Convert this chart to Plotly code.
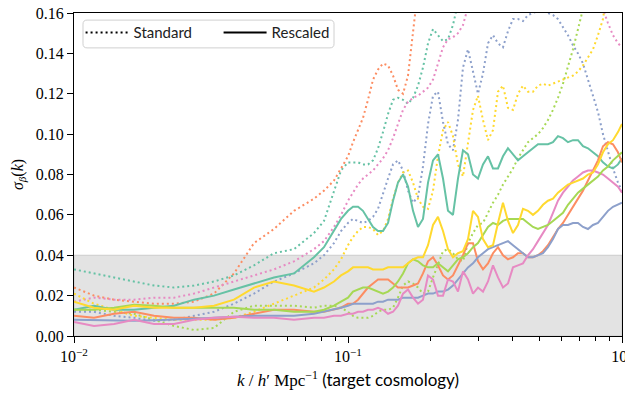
import plotly.graph_objects as go

# wavenumber grid k [h'/Mpc]
K = [0.0100, 0.01183, 0.01400, 0.01656, 0.01959, 0.02317, 0.02741, 0.03243, 0.03836, 0.04538,
     0.05368, 0.06351, 0.07513, 0.08172, 0.08888, 0.09430,
     0.1000, 0.1043, 0.1088, 0.1134, 0.1183, 0.1234, 0.1287, 0.1342, 0.1400, 0.1460,
     0.1522, 0.1588, 0.1656, 0.1727, 0.1801, 0.1878, 0.1959, 0.2043, 0.2130, 0.2222,
     0.2317, 0.2416, 0.2520, 0.2628, 0.2741, 0.2859, 0.2981, 0.3109, 0.3243, 0.3382,
     0.3527, 0.3678, 0.3836, 0.4001, 0.4172, 0.4351, 0.4538, 0.4733, 0.4936, 0.5148,
     0.5368, 0.5599, 0.5839, 0.6090, 0.6351, 0.6623, 0.6908, 0.7204, 0.7513, 0.7835,
     0.8172, 0.8522, 0.8888, 0.9269, 0.9667, 1.0000]

COLORS = ["#66c2a5", "#fc8d62", "#8da0cb", "#e78ac3", "#a6d854", "#ffd92f"]

# ---- Standard (dotted) ----
std_teal = [0.033, 0.031, 0.029, 0.027, 0.025, 0.024, 0.025, 0.027, 0.030, 0.035, 0.041, 0.043, 0.051, 0.057, 0.072, 0.082,
            0.086, 0.086, 0.086, 0.085, 0.085, 0.087, 0.093, 0.101, 0.110, 0.117,
            0.118, 0.117, 0.115, 0.118, 0.124, 0.133, 0.145, 0.152, 0.149, 0.146,
            0.147, 0.154, 0.165, 0.18]
std_orange = [0.024, 0.020, 0.018, 0.017, 0.016, 0.016, 0.017, 0.021, 0.031, 0.046, 0.053, 0.062, 0.068, 0.072, 0.077, 0.083,
              0.089, 0.096, 0.102, 0.108, 0.117, 0.127, 0.132, 0.135, 0.134, 0.129,
              0.122, 0.120, 0.129, 0.150, 0.172]
std_blue = [0.012, 0.012, 0.010, 0.009, 0.0075, 0.008, 0.010, 0.012, 0.016, 0.021, 0.027, 0.031, 0.036, 0.040, 0.046, 0.052,
            0.056, 0.058, 0.057, 0.056, 0.057, 0.059, 0.063, 0.071, 0.078, 0.085,
            0.087, 0.082, 0.072, 0.066, 0.069, 0.084, 0.105, 0.119, 0.121, 0.106,
            0.095, 0.092, 0.107, 0.133, 0.142, 0.131, 0.120, 0.130, 0.145, 0.149,
            0.145, 0.143, 0.151, 0.157, 0.157, 0.156, 0.159, 0.160, 0.161, 0.161,
            0.160, 0.159, 0.157, 0.153, 0.149, 0.144, 0.140, 0.135, 0.127, 0.119,
            0.111, 0.100, 0.091, 0.083, 0.076, 0.072]
std_pink = [0.017, 0.019, 0.018, 0.018, 0.019, 0.019, 0.021, 0.024, 0.027, 0.030, 0.033, 0.037, 0.043, 0.047, 0.054, 0.060,
            0.067, 0.071, 0.075, 0.078, 0.080, 0.082, 0.085, 0.088, 0.092, 0.098,
            0.105, 0.112, 0.116, 0.118, 0.119, 0.121, 0.123, 0.127, 0.135, 0.143,
            0.147, 0.148, 0.150, 0.154, 0.163, 0.18] + [None] * 24 + \
           [0.175, 0.162, 0.155, 0.149, 0.145, 0.143]
std_green = [0.013, 0.013, 0.012, 0.011, 0.008, 0.005, 0.003, 0.004, 0.012, 0.015, 0.015, 0.015, 0.014, 0.015, 0.015, 0.014,
             0.012, 0.010, 0.009, 0.009, 0.009, 0.010, 0.012, 0.013, 0.013, 0.014,
             0.019, 0.025, 0.027, 0.026, 0.024, 0.021, 0.022, 0.029, 0.036, 0.042,
             0.043, 0.041, 0.038, 0.037, 0.046, 0.051, 0.055, 0.056, 0.061, 0.066,
             0.070, 0.075, 0.079, 0.083, 0.088, 0.092, 0.096, 0.098, 0.100, 0.103,
             0.107, 0.112, 0.118, 0.125, 0.133, 0.142, 0.152, 0.162, 0.18]
std_yellow = [0.021, 0.016, 0.013, 0.010, 0.009, 0.008, 0.008, 0.008, 0.009, 0.012, 0.016, 0.020, 0.024, 0.028, 0.033, 0.038,
              0.045, 0.049, 0.052, 0.054, 0.054, 0.053, 0.050, 0.052, 0.058, 0.068,
              0.076, 0.081, 0.082, 0.076, 0.068, 0.064, 0.063, 0.072, 0.089, 0.102,
              0.106, 0.099, 0.085, 0.079, 0.096, 0.112, 0.119, 0.107, 0.097, 0.102,
              0.121, 0.124, 0.113, 0.112, 0.120, 0.124, 0.121, 0.121, 0.124, 0.125,
              0.124, 0.125, 0.126, 0.127, 0.128, 0.129, 0.131, 0.134, 0.138, 0.142,
              0.149, 0.157, 0.175]

# ---- Rescaled (solid) ----
res_teal = [0.013, 0.015, 0.013, 0.013, 0.014, 0.015, 0.018, 0.020, 0.023, 0.026, 0.029, 0.031, 0.039, 0.044, 0.052, 0.058,
            0.062, 0.064, 0.064, 0.062, 0.058, 0.054, 0.052, 0.052, 0.056, 0.067,
            0.076, 0.080, 0.074, 0.062, 0.054, 0.058, 0.076, 0.087, 0.090, 0.078,
            0.062, 0.060, 0.078, 0.092, 0.090, 0.080, 0.078, 0.085, 0.089, 0.083,
            0.083, 0.089, 0.093, 0.090, 0.087, 0.089, 0.091, 0.093, 0.095, 0.095,
            0.095, 0.096, 0.099, 0.098, 0.096, 0.097, 0.097, 0.094, 0.093, 0.091,
            0.089, 0.086, 0.084, 0.083, 0.085, 0.088]
res_orange = [0.010, 0.009, 0.011, 0.012, 0.010, 0.009, 0.009, 0.008, 0.009, 0.011, 0.013, 0.013, 0.012, 0.012, 0.013, 0.014,
              0.016, 0.016, 0.018, 0.021, 0.024, 0.026, 0.028, 0.028, 0.028, 0.026,
              0.024, 0.024, 0.024, 0.025, 0.026, 0.031, 0.037, 0.039, 0.035, 0.030,
              0.028, 0.030, 0.035, 0.040, 0.046, 0.046, 0.037, 0.033, 0.036, 0.041,
              0.044, 0.040, 0.038, 0.039, 0.041, 0.041, 0.039, 0.039, 0.040, 0.042,
              0.045, 0.049, 0.053, 0.056, 0.060, 0.064, 0.068, 0.072, 0.077, 0.082,
              0.087, 0.094, 0.096, 0.095, 0.091, 0.086]
res_blue = [0.008, 0.0078, 0.0075, 0.0075, 0.0078, 0.008, 0.0085, 0.009, 0.0095, 0.010, 0.010, 0.010, 0.011, 0.012, 0.013, 0.014,
            0.015, 0.016, 0.016, 0.016, 0.016, 0.016, 0.017, 0.017, 0.018, 0.018,
            0.018, 0.019, 0.019, 0.019, 0.019, 0.020, 0.021, 0.021, 0.022, 0.022,
            0.023, 0.025, 0.028, 0.031, 0.034, 0.036, 0.039, 0.041, 0.043, 0.044,
            0.045, 0.046, 0.047, 0.045, 0.043, 0.041, 0.039, 0.039, 0.040, 0.041,
            0.044, 0.048, 0.053, 0.055, 0.055, 0.056, 0.056, 0.054, 0.053, 0.055,
            0.056, 0.059, 0.062, 0.064, 0.065, 0.066]
res_pink = [0.007, 0.005, 0.006, 0.008, 0.006, 0.006, 0.008, 0.009, 0.0095, 0.009, 0.009, 0.008, 0.009, 0.009, 0.010, 0.010,
            0.011, 0.011, 0.012, 0.012, 0.013, 0.013, 0.014, 0.013, 0.011, 0.012,
            0.015, 0.021, 0.023, 0.019, 0.016, 0.018, 0.030, 0.028, 0.020, 0.020,
            0.028, 0.027, 0.022, 0.032, 0.028, 0.021, 0.024, 0.022, 0.027, 0.035,
            0.029, 0.024, 0.026, 0.034, 0.035, 0.036, 0.040, 0.043, 0.047, 0.051,
            0.055, 0.061, 0.067, 0.071, 0.074, 0.077, 0.079, 0.081, 0.082, 0.082,
            0.081, 0.080, 0.078, 0.076, 0.074, 0.071]
res_green = [0.013, 0.013, 0.014, 0.0155, 0.015, 0.014, 0.014, 0.014, 0.014, 0.013, 0.013, 0.012, 0.012, 0.013, 0.015, 0.017,
             0.019, 0.022, 0.023, 0.024, 0.024, 0.023, 0.022, 0.021, 0.022, 0.024,
             0.027, 0.031, 0.036, 0.038, 0.037, 0.035, 0.034, 0.034, 0.036, 0.034,
             0.032, 0.035, 0.038, 0.039, 0.041, 0.044, 0.046, 0.050, 0.054, 0.056,
             0.055, 0.057, 0.058, 0.058, 0.058, 0.058, 0.056, 0.054, 0.053, 0.054,
             0.055, 0.057, 0.059, 0.061, 0.065, 0.068, 0.071, 0.073, 0.075, 0.077,
             0.079, 0.082, 0.084, 0.087, 0.089, 0.091]
res_yellow = [0.017, 0.014, 0.013, 0.015, 0.014, 0.014, 0.014, 0.015, 0.018, 0.024, 0.027, 0.025, 0.022, 0.024, 0.027, 0.030,
              0.032, 0.034, 0.034, 0.034, 0.034, 0.033, 0.033, 0.033, 0.034, 0.034,
              0.034, 0.034, 0.036, 0.038, 0.039, 0.039, 0.045, 0.055, 0.059, 0.052,
              0.043, 0.039, 0.041, 0.042, 0.048, 0.062, 0.059, 0.048, 0.044, 0.045,
              0.056, 0.066, 0.057, 0.051, 0.055, 0.063, 0.062, 0.060, 0.062, 0.065,
              0.067, 0.068, 0.071, 0.073, 0.075, 0.076, 0.077, 0.078, 0.080, 0.081,
              0.085, 0.091, 0.095, 0.097, 0.101, 0.105]

STANDARD = [std_teal, std_orange, std_blue, std_pink, std_green, std_yellow]
RESCALED = [res_teal, res_orange, res_blue, res_pink, res_green, res_yellow]

XTICKS = [0.01, 0.1, 1.0]
XTICKTEXT = ["10<sup>−2</sup>", "10<sup>−1</sup>", "10<sup>0</sup>"]
MINOR = [m * d for d in (0.01, 0.1) for m in range(2, 10)]

SERIF = "Liberation Serif, DejaVu Serif, serif"
SANS = "Lato, Open Sans, sans-serif"

fig = go.Figure()

def pad(y):
    return list(y) + [None] * (len(K) - len(y))

for col, ys in zip(COLORS, STANDARD):
    fig.add_trace(go.Scatter(x=K, y=pad(ys), mode="lines", showlegend=False,
                             line=dict(color=col, width=2, dash="2px,3px"),
                             connectgaps=False, hoverinfo="skip"))
for col, ys in zip(COLORS, RESCALED):
    fig.add_trace(go.Scatter(x=K, y=pad(ys), mode="lines", showlegend=False,
                             line=dict(color=col, width=2), hoverinfo="skip"))

# legend entries
fig.add_trace(go.Scatter(x=[None], y=[None], mode="lines", name="Standard",
                         line=dict(color="black", width=2, dash="2px,3px")))
fig.add_trace(go.Scatter(x=[None], y=[None], mode="lines", name="Rescaled",
                         line=dict(color="black", width=2)))

# shaded band
fig.add_shape(type="rect", xref="paper", yref="y", x0=0, x1=1, y0=0, y1=0.04,
              fillcolor="#e3e3e3", line=dict(color="#cccccc", width=1), layer="below")

# rounded legend frame (paper coordinates)
lx0, lx1, ly0, ly1 = 0.0164, 0.4745, 0.892, 0.978
rx, ry = 0.0075, 0.0125
frame = (f"M{lx0+rx},{ly0} L{lx1-rx},{ly0} Q{lx1},{ly0} {lx1},{ly0+ry} "
         f"L{lx1},{ly1-ry} Q{lx1},{ly1} {lx1-rx},{ly1} L{lx0+rx},{ly1} "
         f"Q{lx0},{ly1} {lx0},{ly1-ry} L{lx0},{ly0+ry} Q{lx0},{ly0} {lx0+rx},{ly0} Z")
fig.add_shape(type="path", xref="paper", yref="paper", path=frame,
              fillcolor="rgba(255,255,255,0.85)", line=dict(color="#d0d0d0", width=1), layer="above")

# the page body adds an 8px offset; figure size/margins compensate for it
fig.update_layout(
    width=625, height=385,
    margin=dict(l=66, r=11, t=5, b=57, autoexpand=False),
    paper_bgcolor="white", plot_bgcolor="white",
    showlegend=True,
    legend=dict(orientation="h", x=0.012, y=0.99, xanchor="left", yanchor="top",
                borderwidth=0, bgcolor="rgba(0,0,0,0)",
                font=dict(family=SANS, size=15, color="#222222"),
                itemwidth=43, entrywidth=80, tracegroupgap=0),
    xaxis=dict(type="log", range=[-2, 0], tickvals=XTICKS, ticktext=XTICKTEXT,
               automargin=False, ticklabeloverflow="allow",
               ticks="outside", ticklen=6, tickwidth=1, tickcolor="black",
               showline=True, linecolor="black", linewidth=1.2, mirror=True,
               showgrid=False, zeroline=False,
               minor=dict(tickvals=MINOR, ticks="outside", ticklen=3.5, tickwidth=1, tickcolor="black"),
               tickfont=dict(family=SERIF, size=16, color="black"),
               title=dict(text="<i>k</i> / <i>h</i>′ Mpc<sup>−1</sup> <span style=\"font-family:Lato\">(target cosmology)</span>",
                          font=dict(family=SERIF, size=17, color="black"), standoff=9)),
    yaxis=dict(range=[0, 0.16], dtick=0.02, tickformat=".2f",
               automargin=False, ticklabeloverflow="allow",
               ticks="outside", ticklen=6, tickwidth=1, tickcolor="black",
               showline=True, linecolor="black", linewidth=1.2, mirror=True,
               showgrid=False, zeroline=False,
               tickfont=dict(family=SERIF, size=16, color="black"),
               title=dict(text="<i>σ</i><sub><i>β</i></sub>(<i>k</i>)",
                          font=dict(family=SERIF, size=16, color="black"), standoff=8)),
)

fig.write_html("out.html")
